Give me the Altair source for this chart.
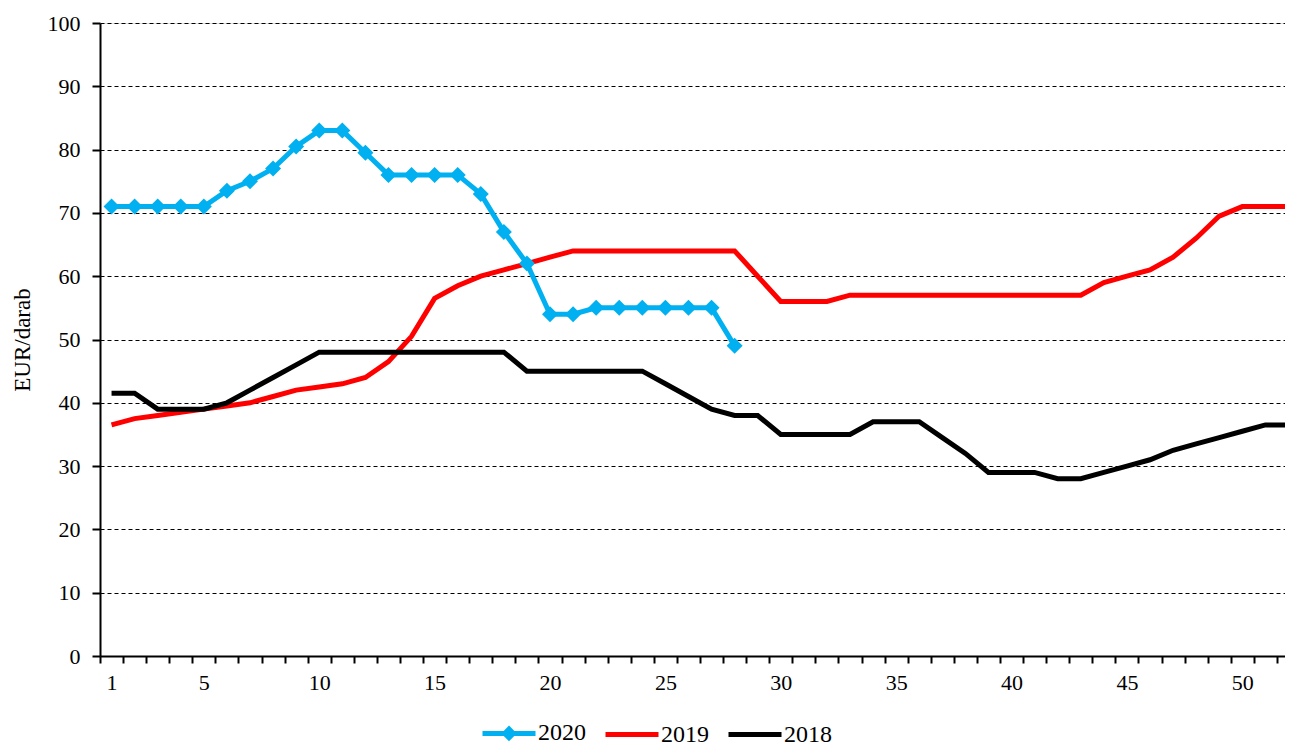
import altair as alt
import pandas as pd

weeks = list(range(1, 53))
v2020 = [71, 71, 71, 71, 71, 73.5, 75, 77, 80.5, 83, 83, 79.5, 76, 76, 76, 76, 73, 67, 62, 54,
         54, 55, 55, 55, 55, 55, 55, 49]
v2019 = [36.5, 37.5, 38, 38.5, 39, 39.5, 40, 41, 42, 42.5, 43, 44, 46.5, 50.5, 56.5, 58.5, 60, 61,
         62, 63, 64, 64, 64, 64, 64, 64, 64, 64, 60, 56, 56, 56, 57, 57, 57, 57, 57, 57, 57, 57,
         57, 57, 57, 59, 60, 61, 63, 66, 69.5, 71, 71, 71]
v2018 = [41.5, 41.5, 39, 39, 39, 40, 42, 44, 46, 48, 48, 48, 48, 48, 48, 48, 48, 48, 45, 45,
         45, 45, 45, 45, 43, 41, 39, 38, 38, 35, 35, 35, 35, 37, 37, 37, 34.5, 32, 29, 29,
         29, 28, 28, 29, 30, 31, 32.5, 33.5, 34.5, 35.5, 36.5, 36.5]
series_names = ["2020", "2019", "2018"]
series_colors = ["#00B0F0", "#FF0000", "#000000"]
y_ticks = list(range(0, 101, 10))

rows = []
for name, vals in zip(series_names, [v2020, v2019, v2018]):
    for w, v in zip(weeks, vals):
        rows.append({"week": w, "value": v, "series": name})
df = pd.DataFrame(rows)

FONT = "Liberation Serif"
DIAMOND = "M-1,0H1M0,-0.16L0.16,0L0,0.16L-0.16,0Z"

color_scale = alt.Scale(domain=series_names, range=series_colors)
shape_scale = alt.Scale(domain=series_names, range=[DIAMOND, "stroke", "stroke"])

x_enc = alt.X(
    "week:O",
    sort=weeks,
    scale=alt.Scale(type="band", paddingInner=0, paddingOuter=0, range=[0, 1200]),
    axis=alt.Axis(
        labelExpr="(datum.value == 1 || datum.value % 5 == 0) ? '' + datum.value : ''",
        tickBand="extent",
        labelAngle=0,
        labelOverlap=False,
        labelBound=False,
        grid=False,
        title=None,
        tickSize=7,
        tickWidth=2,
        tickColor="black",
        domainColor="black",
        domainWidth=2,
        labelPadding=9,
        labelFont=FONT,
        labelFontSize=22,
        labelColor="black",
    ),
)
y_enc = alt.Y(
    "value:Q",
    scale=alt.Scale(domain=[0, 100], nice=False),
    axis=alt.Axis(
        values=y_ticks,
        grid=True,
        gridDash=[4, 3],
        gridColor="black",
        gridWidth=1,
        title="EUR/darab",
        titleFont=FONT,
        titleFontSize=23,
        titleFontWeight="normal",
        titleColor="black",
        titlePadding=13,
        tickSize=8,
        tickWidth=2,
        tickColor="black",
        domainColor="black",
        domainWidth=2,
        labelPadding=12,
        labelFont=FONT,
        labelFontSize=22,
        labelColor="black",
    ),
)

legend = alt.Legend(
    title=None,
    orient="none",
    legendX=380,
    legendY=681,
    direction="horizontal",
    symbolSize=2809,
    symbolStrokeWidth=5,
    labelFont=FONT,
    labelFontSize=24,
    labelColor="black",
    labelOffset=0,
    columnPadding=9,
)

lines = alt.Chart(df).mark_line(strokeWidth=5).encode(
    x=x_enc,
    y=y_enc,
    color=alt.Color("series:N", scale=color_scale, legend=legend),
)

points = alt.Chart(df).transform_filter(
    alt.datum.series == "2020"
).mark_point(filled=True, opacity=1, size=10000).encode(
    x=x_enc,
    y=y_enc,
    color=alt.Color("series:N", scale=color_scale, legend=legend),
    shape=alt.Shape("series:N", scale=shape_scale, legend=legend),
)

chart = alt.layer(lines, points).properties(
    width=1185,
    height=633,
    autosize=alt.AutoSizeParams(type="none"),
    padding={"left": 92, "top": 15, "right": 0, "bottom": 100},
).configure_view(stroke=None).configure(background="white")

chart.save("out.html", embed_options={"renderer": "svg", "actions": False})
